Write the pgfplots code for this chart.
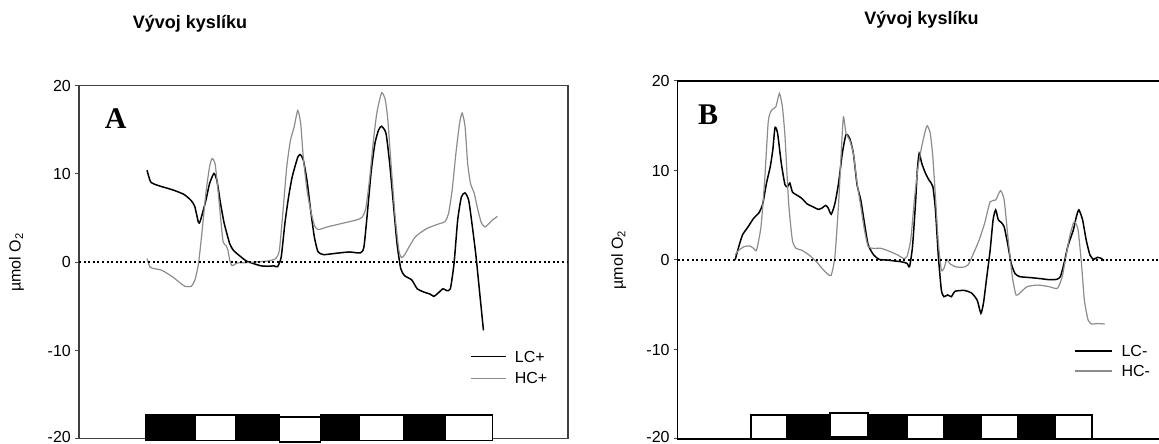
\documentclass[border=0pt]{standalone}
\usepackage{pgfplots}
\pgfplotsset{compat=1.18}
\usepackage{fontspec}
\setmainfont{Liberation Sans}
\newfontfamily\timesfont{Liberation Serif}
\definecolor{hcgray}{RGB}{140,140,140}
\pgfplotsset{
  panel/.style={
    scale only axis, clip=false,
    ymin=-20, ymax=20,
    ytick={-20,-10,0,10,20},
    yticklabels={\raisebox{-3.3pt}[0pt][0pt]{-20},-10,0,10,20},
    xtick=\empty,
    ytick pos=left,
    tick align=outside,
    major tick length=4pt,
    every tick/.style={black!70, line width=1pt},
    yticklabel style={font=\fontsize{16}{16}\selectfont, inner sep=0pt, xshift=-4pt},
  },
  lcline/.style={black, line width=1.5pt, smooth, tension=0.35},
  hcline/.style={hcgray, line width=1.2pt, smooth, tension=0.35},
}
\begin{document}
\begin{tikzpicture}[x=1pt,y=1pt]
\useasboundingbox (0,0) rectangle (1159,444);

% ---------------- Panel A ----------------
\begin{axis}[panel,
  at={(79pt,5.1pt)}, anchor=south west,
  width=489pt, height=353.2pt,
  xmin=205, xmax=1535,
  axis line style={black!75, line width=1.2pt},
]
\addplot[lcline] coordinates {
(390,10.43)(400,9.1)(420,8.7)(460,8.2)(490,7.7)(510,7.0)(520,6.3)(530,4.5)(535,4.7)(550,7.0)(560,8.9)(572,10.06)(580,9.3)(590,6.65)(600,4.4)(615,2.1)(625,1.36)(640,0.8)(660,0.15)(680,-0.15)(700,-0.4)(720,-0.45)(735,-0.4)(745,-0.5)(755,0.6)(765,4.4)(775,7.4)(785,9.7)(800,11.9)(807,12.2)(815,11.6)(825,9.3)(835,5.9)(845,2.9)(855,1.2)(870,0.87)(900,1.0)(940,1.17)(970,1.06)(980,1.74)(990,5.9)(1000,10.4)(1010,13.5)(1020,15.0)(1028,15.4)(1040,14.6)(1050,11.2)(1060,6.65)(1070,2.1)(1080,-0.7)(1090,-1.5)(1110,-2.0)(1125,-3.0)(1145,-3.4)(1160,-3.6)(1170,-3.86)(1180,-3.55)(1195,-3.0)(1205,-3.2)(1215,-3.0)(1225,-0.15)(1235,4.8)(1245,7.4)(1255,7.86)(1265,7.0)(1275,4.0)(1285,0.6)(1295,-3.55)(1305,-7.7)
};
\addplot[hcline] coordinates {
(390,0.42)(398,-0.53)(410,-0.72)(430,-0.9)(460,-1.66)(480,-2.34)(493,-2.72)(510,-2.72)(520,-2.04)(530,-0.15)(540,3.6)(550,7.8)(560,10.8)(567,11.76)(575,11.2)(583,8.2)(590,5.1)(597,2.3)(605,1.9)(610,1.36)(615,0.23)(620,-0.34)(625,-0.34)(635,-0.08)(660,-0.04)(700,0.08)(720,0.15)(740,0.42)(750,1.36)(760,5.9)(770,10.8)(780,13.8)(790,15.3)(800,17.2)(808,15.7)(815,11.9)(825,8.2)(835,5.9)(845,4.2)(855,3.7)(880,4.0)(920,4.4)(960,4.8)(975,5.1)(985,6.1)(995,9.3)(1005,13.5)(1015,16.9)(1028,19.2)(1038,18.4)(1045,16.1)(1055,10.4)(1065,5.1)(1075,1.36)(1082,0.53)(1090,0.8)(1100,1.55)(1120,2.9)(1150,3.8)(1180,4.3)(1200,4.6)(1210,5.5)(1220,8.2)(1230,12.3)(1240,15.7)(1247,16.9)(1255,15.4)(1262,11.2)(1270,8.9)(1280,7.8)(1290,5.9)(1300,4.4)(1310,4.0)(1320,4.4)(1330,4.8)(1343,5.2)
};
\addplot[black, line width=2pt, dash pattern=on 2pt off 2.6pt] coordinates {(205,0)(1535,0)};
% light/dark bar
\draw[line width=1.6pt, fill=black] (axis cs:388,-20.2) rectangle (axis cs:520,-17.29);
\draw[line width=1.6pt, fill=white] (axis cs:520,-20.2) rectangle (axis cs:632,-17.29);
\draw[line width=1.6pt, fill=black] (axis cs:632,-20.2) rectangle (axis cs:750,-17.29);
\draw[line width=1.6pt, fill=white] (axis cs:750,-20.32) rectangle (axis cs:862,-17.55);
\draw[line width=1.6pt, fill=black] (axis cs:862,-20.2) rectangle (axis cs:968,-17.29);
\draw[line width=1.6pt, fill=white] (axis cs:968,-20.2) rectangle (axis cs:1088,-17.29);
\draw[line width=1.6pt, fill=black] (axis cs:1088,-20.2) rectangle (axis cs:1200,-17.29);
\draw[line width=1.6pt, fill=white] (axis cs:1200,-20.2) rectangle (axis cs:1330,-17.29);
% legend
\draw[black, line width=1.5pt] (axis cs:1270,-10.69) -- (axis cs:1365,-10.69);
\draw[hcgray, line width=1.2pt] (axis cs:1270,-13.14) -- (axis cs:1365,-13.14);
\node[anchor=west, inner sep=0pt, font=\fontsize{16}{16}\selectfont] at (axis cs:1390,-10.69) {LC+};
\node[anchor=west, inner sep=0pt, font=\fontsize{16}{16}\selectfont] at (axis cs:1390,-13.14) {HC+};
\end{axis}

% ---------------- Panel B ----------------
\begin{axis}[panel,
  at={(677.8pt,5pt)}, anchor=south west,
  width=489.2pt, height=358pt,
  xmin=265, xmax=1588.5,
  axis line style={black, line width=1.3pt},
]
\addplot[lcline] coordinates {
(420,0)(430,1.5)(440,2.8)(455,3.7)(470,4.65)(485,5.3)(495,6.3)(505,8.6)(515,10.4)(522,12.3)(528,14.8)(535,14.15)(545,10.8)(555,8.4)(562,8.2)(568,8.6)(575,7.6)(585,7.3)(600,6.9)(615,6.26)(630,5.96)(645,5.66)(655,5.8)(665,6.1)(672,5.8)(680,5.1)(690,6.3)(700,8.6)(710,11.9)(720,14.0)(730,13.6)(740,11.9)(750,8.4)(760,6.7)(770,4.1)(780,1.7)(795,0.56)(810,0.07)(830,0)(850,-0.1)(870,-0.2)(885,-0.37)(892,-0.74)(900,1.5)(908,6.3)(913,10.05)(918,11.9)(925,10.8)(935,9.7)(945,8.9)(955,8.2)(962,5.6)(970,0.37)(978,-3.35)(985,-4.1)(995,-3.9)(1005,-4.1)(1015,-3.5)(1040,-3.4)(1060,-3.7)(1075,-4.5)(1085,-5.96)(1092,-4.8)(1100,-2.2)(1110,1.1)(1118,4.5)(1125,5.6)(1132,4.5)(1140,4.2)(1148,3.7)(1157,1.9)(1167,-0.37)(1177,-1.5)(1190,-1.86)(1220,-1.97)(1250,-2.1)(1270,-2.2)(1290,-2.16)(1300,-1.86)(1310,-0.37)(1320,1.5)(1335,3.35)(1343,4.8)(1350,5.6)(1360,4.5)(1370,2.2)(1380,0.56)(1390,0.07)(1400,0.3)(1410,0.19)(1418,-0.07)
};
\addplot[hcline] coordinates {
(420,0.56)(430,1.1)(445,1.5)(460,1.56)(470,1.3)(478,1.1)(490,3.7)(500,8.9)(510,15.6)(520,16.8)(530,17.1)(540,18.6)(548,17.1)(555,13.8)(565,6.3)(575,2.2)(585,1.3)(600,1.1)(620,0.56)(640,-0.19)(655,-0.93)(670,-1.56)(680,-1.7)(690,0.37)(700,6.3)(707,11.9)(713,16.0)(720,14.15)(730,13.4)(740,11.9)(750,8.6)(760,6.0)(770,3.35)(780,1.5)(795,1.3)(815,1.3)(840,0.93)(860,0.56)(875,0.19)(885,0.37)(895,2.2)(905,6.7)(915,10.4)(925,12.7)(935,14.5)(940,15.0)(948,14.15)(955,11.5)(962,7.1)(970,1.86)(978,-1.1)(985,-0.93)(993,0.07)(1000,-0.37)(1015,-0.74)(1035,-0.82)(1050,-0.56)(1065,0.74)(1080,2.2)(1095,4.1)(1110,6.5)(1125,6.7)(1138,7.75)(1148,6.7)(1158,2.6)(1170,-1.86)(1180,-3.9)(1190,-3.7)(1210,-2.98)(1240,-2.8)(1270,-2.98)(1292,-3.17)(1305,-1.86)(1315,0.37)(1325,2.6)(1335,4.1)(1340,4.2)(1348,3.35)(1357,-0.37)(1365,-4.5)(1375,-6.7)(1385,-7.15)(1400,-7.1)(1420,-7.15)
};
\addplot[black, line width=2pt, dash pattern=on 2pt off 2.6pt] coordinates {(265,0)(1588.5,0)};
% light/dark bar
\draw[line width=1.8pt, fill=white] (axis cs:463,-20.03) rectangle (axis cs:560,-17.32);
\draw[line width=1.8pt, fill=black] (axis cs:560,-20.03) rectangle (axis cs:677,-17.32);
\draw[line width=1.8pt, fill=white] (axis cs:677,-19.74) rectangle (axis cs:779,-17.13);
\draw[line width=1.8pt, fill=black] (axis cs:779,-20.03) rectangle (axis cs:884,-17.32);
\draw[line width=1.8pt, fill=white] (axis cs:884,-20.03) rectangle (axis cs:985,-17.32);
\draw[line width=1.8pt, fill=black] (axis cs:985,-20.03) rectangle (axis cs:1086,-17.32);
\draw[line width=1.8pt, fill=white] (axis cs:1086,-20.03) rectangle (axis cs:1186,-17.32);
\draw[line width=1.8pt, fill=black] (axis cs:1186,-20.03) rectangle (axis cs:1286,-17.32);
\draw[line width=1.8pt, fill=white] (axis cs:1286,-20.03) rectangle (axis cs:1385,-17.32);
% legend
\draw[black, line width=1.5pt] (axis cs:1340,-10.17) -- (axis cs:1440,-10.17);
\draw[hcgray, line width=1.2pt] (axis cs:1340,-12.40) -- (axis cs:1440,-12.40);
\node[anchor=west, inner sep=0pt, font=\fontsize{16}{16}\selectfont] at (axis cs:1465,-10.17) {LC-};
\node[anchor=west, inner sep=0pt, font=\fontsize{16}{16}\selectfont] at (axis cs:1465,-12.40) {HC-};
\end{axis}

% titles, panel letters, y labels
\node[anchor=base, inner sep=0pt, font=\fontsize{18}{18}\selectfont\bfseries] at (190,415) {Vývoj kyslíku};
\node[anchor=base, inner sep=0pt, font=\fontsize{18}{18}\selectfont\bfseries] at (921.5,419) {Vývoj kyslíku};
\node[anchor=base west, inner sep=0pt, font=\fontsize{30}{30}\selectfont\timesfont\bfseries] at (104.7,315.7) {A};
\node[anchor=base west, inner sep=0pt, font=\fontsize{30}{30}\selectfont\timesfont\bfseries] at (698,319) {B};
\node[rotate=90, inner sep=0pt, font=\fontsize{16}{16}\selectfont] at (16.5,181.7) {µmol O\textsubscript{2}};
\node[rotate=90, inner sep=0pt, font=\fontsize{16}{16}\selectfont] at (618.7,184) {µmol O\textsubscript{2}};
\end{tikzpicture}
\end{document}
